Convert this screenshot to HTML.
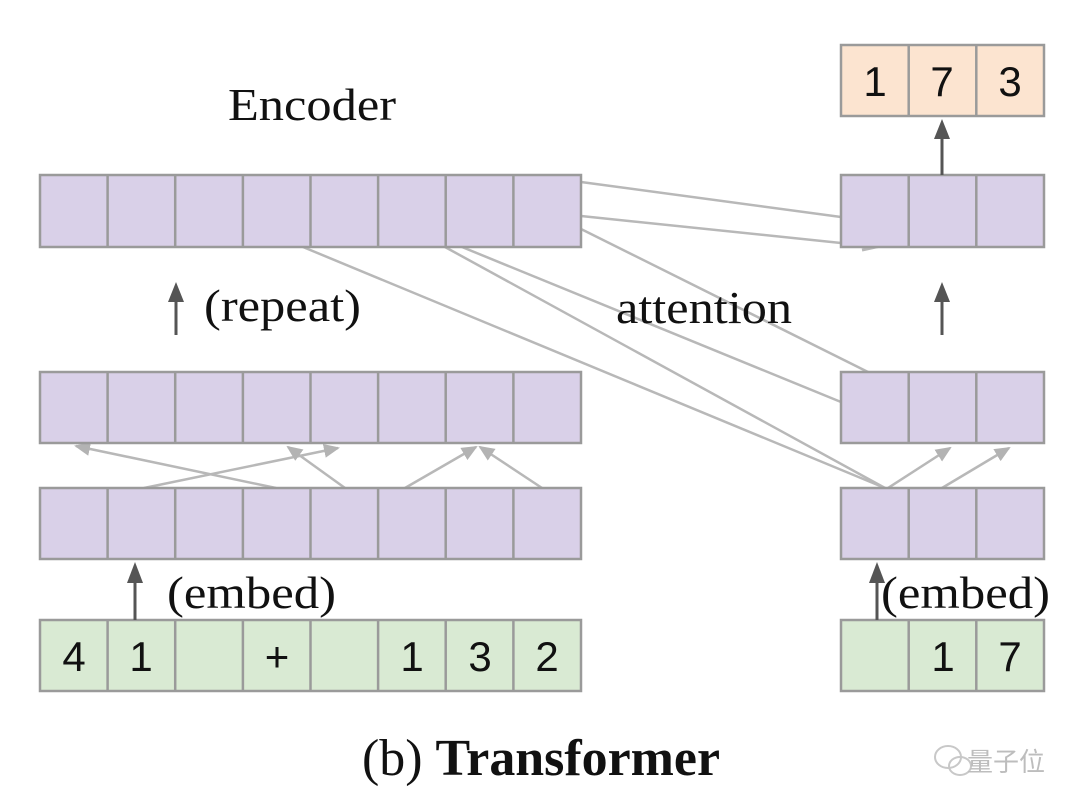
<!DOCTYPE html>
<html><head><meta charset="utf-8"><style>
html,body{margin:0;padding:0;background:#fff;}
svg{display:block;}
</style></head><body>
<svg width="1080" height="809" viewBox="0 0 1080 809" xmlns="http://www.w3.org/2000/svg">
<defs>
<marker id="ag" markerWidth="16" markerHeight="14" refX="14" refY="7" orient="auto" markerUnits="userSpaceOnUse" viewBox="0 0 16 14">
<path d="M0,0 L16,7 L0,14 z" fill="#b3b3b3"/></marker>
</defs>
<rect width="1080" height="809" fill="#fff"/>

<g stroke="#b8b8b8" stroke-width="2.5" fill="none">
<line x1="581" y1="182" x2="841" y2="217"/>
<line x1="581" y1="216" x2="841" y2="243"/>
<line x1="581" y1="229" x2="868" y2="372"/>
<line x1="462" y1="247" x2="841" y2="402"/>
<line x1="303" y1="247" x2="885" y2="488"/>
<line x1="445" y1="247" x2="885" y2="488"/>
<path d="M862,250 L890,244" stroke-width="3"/>
</g>
<g stroke="#b8b8b8" stroke-width="2.5" fill="none" marker-end="url(#ag)">
<line x1="276" y1="488" x2="76" y2="446"/>
<line x1="144" y1="488" x2="338" y2="448"/>
<line x1="345" y1="488" x2="288" y2="447"/>
<line x1="405" y1="488" x2="476" y2="447"/>
<line x1="542" y1="488" x2="480" y2="447"/>
<line x1="888" y1="488" x2="950" y2="448"/>
<line x1="942" y1="488" x2="1009" y2="448"/>
</g>

<g stroke="#9a9a9a" stroke-width="2.5">
<g fill="#d9d0e8">
<rect x="40" y="175" width="541" height="72"/>
<rect x="40" y="372" width="541" height="71"/>
<rect x="40" y="488" width="541" height="71"/>
<rect x="841" y="175" width="203" height="72"/>
<rect x="841" y="372" width="203" height="71"/>
<rect x="841" y="488" width="203" height="71"/>
</g>
<g fill="#d9ead3">
<rect x="40" y="620" width="541" height="71"/>
<rect x="841" y="620" width="203" height="71"/>
</g>
<rect x="841" y="45" width="203" height="71" fill="#fce4d0"/>
</g>
<g stroke="#9a9a9a" stroke-width="2.5">
<path d="M107.6,175V247M175.2,175V247M242.9,175V247M310.5,175V247M378.1,175V247M445.7,175V247M513.4,175V247"/>
<path d="M107.6,372V443M175.2,372V443M242.9,372V443M310.5,372V443M378.1,372V443M445.7,372V443M513.4,372V443"/>
<path d="M107.6,488V559M175.2,488V559M242.9,488V559M310.5,488V559M378.1,488V559M445.7,488V559M513.4,488V559"/>
<path d="M107.6,620V691M175.2,620V691M242.9,620V691M310.5,620V691M378.1,620V691M445.7,620V691M513.4,620V691"/>
<path d="M908.7,45V116M976.3,45V116M908.7,175V247M976.3,175V247M908.7,372V443M976.3,372V443M908.7,488V559M976.3,488V559M908.7,620V691M976.3,620V691"/>
</g>

<g stroke="#555" stroke-width="3" fill="#555">
<line x1="176" y1="335" x2="176" y2="300"/><path d="M168,302 L176,282 L184,302 z" stroke="none"/>
<line x1="942" y1="175" x2="942" y2="135"/><path d="M934,139 L942,119 L950,139 z" stroke="none"/>
<line x1="942" y1="335" x2="942" y2="300"/><path d="M934,302 L942,282 L950,302 z" stroke="none"/>
<line x1="135" y1="620" x2="135" y2="580"/><path d="M127,583 L135,562 L143,583 z" stroke="none"/>
<line x1="877" y1="620" x2="877" y2="580"/><path d="M869,583 L877,562 L885,583 z" stroke="none"/>
</g>

<g font-family="Liberation Sans, sans-serif" font-size="42" fill="#111" text-anchor="middle">
<text x="74" y="671">4</text><text x="141" y="671">1</text><text x="277" y="671">+</text>
<text x="412" y="671">1</text><text x="480" y="671">3</text><text x="547" y="671">2</text>
<text x="943" y="671">1</text><text x="1010" y="671">7</text>
<text x="875" y="96">1</text><text x="942" y="96">7</text><text x="1010" y="96">3</text>
</g>

<g font-family="Liberation Serif, serif" fill="#111" font-size="46">
<text x="228" y="120" textLength="168" lengthAdjust="spacingAndGlyphs">Encoder</text>
<text x="204" y="321" textLength="157" lengthAdjust="spacingAndGlyphs">(repeat)</text>
<text x="616" y="323" textLength="176" lengthAdjust="spacingAndGlyphs">attention</text>
<text x="167" y="608" textLength="169" lengthAdjust="spacingAndGlyphs">(embed)</text>
<text x="881" y="608" textLength="169" lengthAdjust="spacingAndGlyphs">(embed)</text>
</g>
<text x="362" y="775" font-family="Liberation Serif, serif" font-size="52" fill="#111" textLength="358" lengthAdjust="spacingAndGlyphs">(b) <tspan font-weight="bold">Transformer</tspan></text>

<g stroke="#c8c8c8" stroke-width="2" fill="none">
<ellipse cx="948" cy="757" rx="13" ry="11"/>
<ellipse cx="960" cy="766" rx="11" ry="9"/>
</g>
<text x="967" y="771" font-family="Noto Sans CJK SC, sans-serif" font-size="26" fill="#bdbdbd">量子位</text>
</svg>
</body></html>
